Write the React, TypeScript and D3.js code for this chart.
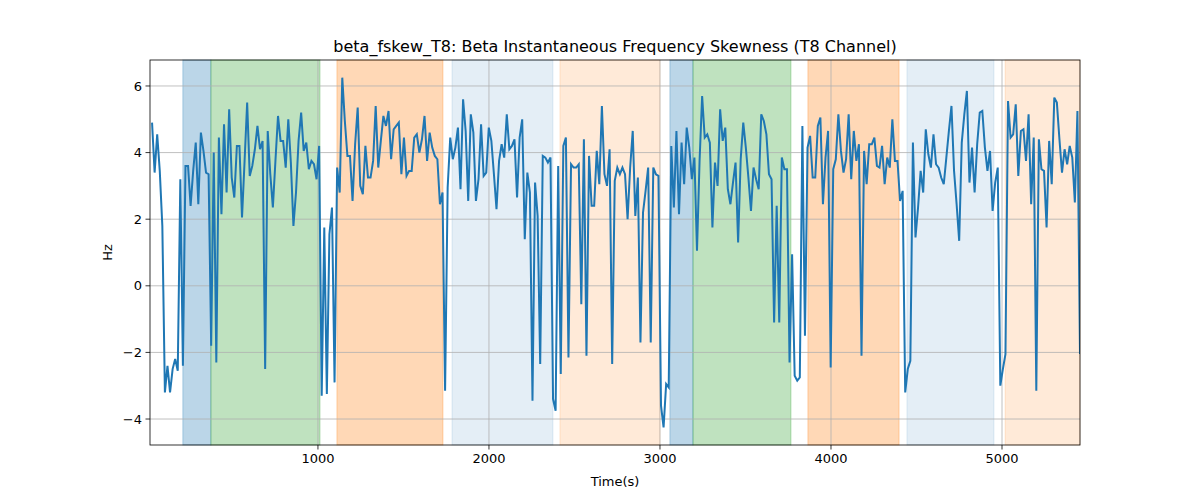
import React from "react";
import * as d3 from "d3";

// Beta instantaneous frequency skewness, T8 channel (Hz), evenly sampled
const values: number[] = [
  4.9, 3.4, 4.55, 3.45, 1.8, -3.2, -2.4, -3.2, -2.5, -2.2, -2.55, 3.2, -2.4, 3.6, 3.6, 2.4, 3.45, 4.3, 2.45, 4.6,
  4.05, 3.4, 3.35, -1.8, 4.0, -2.3, 4.45, 2.15, 4.85, 2.8, 5.3, 3.25, 2.65, 4.2, 4.2, 2.05, 3.75, 5.5, 3.3, 3.6,
  4.1, 4.8, 4.1, 4.35, -2.5, 4.65, 3.35, 2.35, 3.75, 5.1, 4.35, 4.35, 3.55, 5.0, 3.7, 1.8, 2.8, 4.35, 5.2, 4.05,
  4.3, 3.5, 3.75, 3.65, 3.2, 4.2, -3.3, 1.75, -3.25, 1.55, 2.35, -2.9,
  3.55, 2.8, 6.25, 4.95, 3.9, 3.9, 2.55, 4.25, 5.35, 3.0, 2.75, 4.2, 3.25, 3.25, 3.75, 5.4, 3.55, 4.35, 5.1, 4.8,
  5.25, 3.8, 4.7, 4.8, 4.9, 3.35, 4.45, 3.3, 3.45, 3.45, 4.45, 4.55, 4.0, 4.4, 5.1, 3.75, 4.6, 4.15, 3.9, 3.8,
  2.45, 2.8, -3.15, 2.95, 4.45, 3.8, 4.15, 4.75, 2.9, 5.6, 4.65, 2.55, 5.15, 4.6, 2.55, 3.2, 4.85, 3.3, 3.4, 4.75,
  4.35, 3.35, 2.3, 3.75, 4.25, 3.85, 5.15, 4.1, 4.2, 4.4,
  2.65, 4.45, 5.0, 1.4, 3.4, 2.8, -3.45, 3.1, 2.1, -2.35, 3.9, 3.85, 3.7, 3.85, -3.4, -3.75, 3.6, -2.65, 4.2, 4.45,
  -2.15, 3.65, 3.55, 3.55, 3.65, -0.55, 4.4, -2.1, 3.9, 2.4, 2.4, 4.05, 3.05, 5.4, 3.35, 3.0, 4.1, -2.35, 3.15, 3.55,
  3.35, 3.55, 3.35, 2.0, 3.55, 4.65, 2.1, 3.25, -1.7, 2.2, 2.85, 3.55, -1.7, 3.55, 3.35, 3.3, -3.6, -4.25, -2.95, -3.05,
  4.2, 2.35, 4.65, 2.15, 4.3, 3.05, 4.75, 4.15, 3.2, 3.85, 1.05,
  3.75, 5.7, 4.45, 4.55, 4.3, 1.75, 3.7, 3.0, 5.3, 4.35, 4.75, 2.9, 2.45, 3.1, 3.7, 1.3, 3.8, 4.9, 4.15, 3.25,
  2.25, 3.55, 3.2, 2.9, 5.15, 4.95, 4.55, 3.35, 3.2, -1.1, 2.4, -1.1, 3.85, 3.5, 3.5, -2.3, 0.95, -2.7, -2.85, -2.75,
  4.8, -1.5, 4.15, 4.5, 3.25, 3.25, 4.8, 5.05, 2.45, 3.85, 4.65, -2.45, 3.5, 3.8, 5.15, 4.05, 3.4, 3.8, 5.15, 3.2,
  4.65, 3.75, 4.25, -2.1, 4.05, 3.05, 4.25, 4.25, 4.45, 3.6, 3.55, 4.2, 3.05, 3.85,
  3.55, 5.0, 3.75, 3.75, 2.55, 2.85, -3.2, -2.5, -2.25, 4.3, 1.45, 2.35, 3.45, 2.8, 4.7, 3.95, 3.55, 4.55, 3.65, 3.55,
  3.25, 3.05, 3.85, 4.65, 5.4, 3.45, 2.45, 1.35, 4.3, 5.15, 5.85, 3.1, 4.15, 2.8, 4.25, 5.2, 5.25, 4.15, 3.45, 4.05,
  2.25, 3.1, 3.55, -3.0, -2.5, -2.05, 5.55, 4.45, 4.55, 5.45, 3.3, 4.65, 4.7, 3.75, 5.15, 2.45, 4.45, -3.15, 4.4, 3.5,
  3.45, 1.75, 4.35, 3.05, 5.65, 5.5, 4.4, 3.4, 4.1, 3.65, 4.2, 3.85, 2.5, 5.25, -2.05,
];
const tStart = 30;
const tEnd = 5456;

// shaded segments: [start, end, colour, opacity]
const spans: [number, number, string, number][] = [
  [210, 374, "#1f77b4", 0.3],
  [374, 1012, "#2ca02c", 0.3],
  [1111, 1731, "#ff7f0e", 0.3],
  [1784, 2374, "#1f77b4", 0.12],
  [2415, 3000, "#ff7f0e", 0.16],
  [3058, 3193, "#1f77b4", 0.3],
  [3193, 3766, "#2ca02c", 0.3],
  [3865, 4398, "#ff7f0e", 0.3],
  [4444, 4953, "#1f77b4", 0.12],
  [5018, 5456, "#ff7f0e", 0.16],
];

const xTicks = [1000, 2000, 3000, 4000, 5000];
const yTicks = [-4, -2, 0, 2, 4, 6];

const W = 1200;
const H = 500;
const m = { top: 60, right: 120, bottom: 55, left: 150 };

export default function App() {
  const x = d3.scaleLinear().domain([18, 5456]).range([m.left, W - m.right]);
  const y = d3.scaleLinear().domain([-4.78, 6.78]).range([H - m.bottom, m.top]);
  const step = (tEnd - tStart) / (values.length - 1);
  const line = d3
    .line<number>()
    .x((_, i) => x(tStart + i * step))
    .y((d) => y(d));
  const font = "DejaVu Sans, sans-serif";

  return (
    <svg width={W} height={H} style={{ position: "absolute", left: 0, top: 0, background: "white" }} fontFamily={font}>
      <defs>
        <clipPath id="plot">
          <rect x={m.left} y={m.top} width={W - m.left - m.right} height={H - m.top - m.bottom} />
        </clipPath>
      </defs>
      {spans.map(([a, b, c, o], i) => (
        <rect key={i} x={x(a)} y={m.top} width={x(b) - x(a)} height={H - m.top - m.bottom}
          fill={c} fillOpacity={o} stroke={c} strokeOpacity={o} />
      ))}
      {xTicks.map((t) => (
        <line key={t} x1={x(t)} x2={x(t)} y1={m.top} y2={H - m.bottom} stroke="#b0b0b0" strokeWidth={0.8} />
      ))}
      {yTicks.map((t) => (
        <line key={t} x1={m.left} x2={W - m.right} y1={y(t)} y2={y(t)} stroke="#b0b0b0" strokeWidth={0.8} />
      ))}
      <path d={line(values) ?? ""} fill="none" stroke="#1f77b4" strokeWidth={2} clipPath="url(#plot)" />
      <rect x={m.left} y={m.top} width={W - m.left - m.right} height={H - m.top - m.bottom}
        fill="none" stroke="black" strokeWidth={0.8} />
      {xTicks.map((t) => (
        <g key={t} transform={`translate(${x(t)},${H - m.bottom})`}>
          <line y2={4.5} stroke="black" strokeWidth={0.8} />
          <text y={18} textAnchor="middle" fontSize={13}>{t}</text>
        </g>
      ))}
      {yTicks.map((t) => (
        <g key={t} transform={`translate(${m.left},${y(t)})`}>
          <line x2={-4.5} stroke="black" strokeWidth={0.8} />
          <text x={-8} dy="0.35em" textAnchor="end" fontSize={13}>{t < 0 ? `\u2212${-t}` : t}</text>
        </g>
      ))}
      <text x={(m.left + W - m.right) / 2} y={486} textAnchor="middle" fontSize={13}>Time(s)</text>
      <text transform={`translate(112,${(m.top + H - m.bottom) / 2}) rotate(-90)`} textAnchor="middle" fontSize={13}>Hz</text>
      <text x={(m.left + W - m.right) / 2} y={52} textAnchor="middle" fontSize={16}>
        beta_fskew_T8: Beta Instantaneous Frequency Skewness (T8 Channel)
      </text>
    </svg>
  );
}
